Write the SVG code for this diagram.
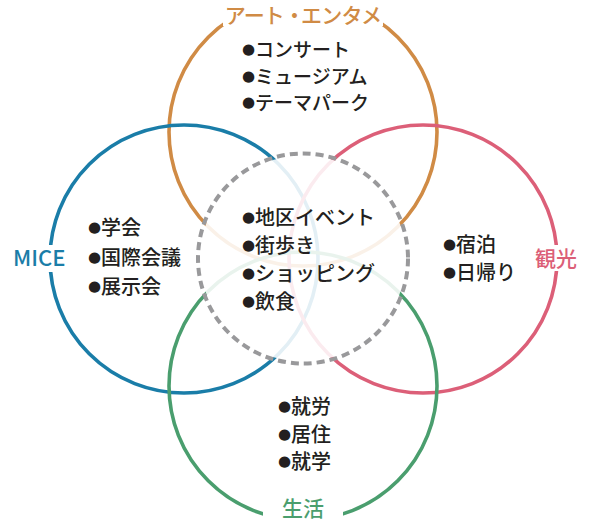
<svg xmlns="http://www.w3.org/2000/svg" width="593" height="524" viewBox="0 0 593 524">
<style>
.ring{fill:none;stroke-width:3.6}
.t{font-family:"Noto Sans CJK JP",sans-serif;font-size:20px;font-weight:500;fill:#231f20}
.s{font-size:19px}
.b{font-family:"DejaVu Sans",sans-serif;font-size:15px}
.lab{font-family:"Noto Sans CJK JP",sans-serif;font-size:21px;font-weight:500}
.bg{fill:#fff}
</style>
<rect width="593" height="524" fill="#fff"/>
<g id="rings">
<circle id="art-ring" class="ring" cx="303" cy="132" r="134" stroke="#d08b45"/>
<circle id="mice-ring" class="ring" cx="184" cy="259" r="134" stroke="#1a7da8"/>
<circle id="kanko-ring" class="ring" cx="423" cy="259" r="134" stroke="#dc5f78"/>
<circle id="seikatsu-ring" class="ring" cx="303" cy="386" r="134" stroke="#4a9e6e"/>
<circle cx="303" cy="258.5" r="103" fill="#fff" fill-opacity="0.88"/>
<circle id="center-ring" cx="303" cy="258.5" r="105" fill="none" stroke="#99999b" stroke-width="4" stroke-dasharray="8 5"/>
</g>
<g id="art">
<rect class="bg" x="223" y="-2" width="160" height="28"/>
<text class="lab" x="303" y="23" text-anchor="middle" fill="#d08b45" font-size="18" letter-spacing="-0.8">アート<tspan letter-spacing="-4">・</tspan>エンタメ</text>
<text class="t s" x="242" y="57"><tspan class="b" dy="-3">●</tspan><tspan dy="3">コンサート</tspan></text>
<text class="t s" x="242" y="83.5"><tspan class="b" dy="-3">●</tspan><tspan dy="3">ミュージアム</tspan></text>
<text class="t s" x="242" y="110"><tspan class="b" dy="-3">●</tspan><tspan dy="3">テーマパーク</tspan></text>
</g>
<g id="mice">
<rect class="bg" x="8" y="245" width="66" height="27"/>
<text x="13" y="266" font-family="Noto Sans CJK JP, sans-serif" font-size="22" font-weight="500" fill="#1a7da8">MICE</text>
<text class="t" x="88" y="235"><tspan class="b" dy="-3">●</tspan><tspan dy="3">学会</tspan></text>
<text class="t" x="88" y="265"><tspan class="b" dy="-3">●</tspan><tspan dy="3">国際会議</tspan></text>
<text class="t" x="88" y="294"><tspan class="b" dy="-3">●</tspan><tspan dy="3">展示会</tspan></text>
</g>
<g id="kanko">
<rect class="bg" x="531" y="245" width="52" height="26"/>
<text class="lab" x="535" y="266" fill="#dc5f78">観光</text>
<text class="t" x="443" y="252"><tspan class="b" dy="-3">●</tspan><tspan dy="3">宿泊</tspan></text>
<text class="t" x="443" y="280"><tspan class="b" dy="-3">●</tspan><tspan dy="3">日帰り</tspan></text>
</g>
<g id="seikatsu">
<rect class="bg" x="263" y="504" width="80" height="22"/>
<text class="lab" x="282" y="516" fill="#4a9e6e" font-size="20">生活</text>
<text class="t" x="278" y="414"><tspan class="b" dy="-3">●</tspan><tspan dy="3">就労</tspan></text>
<text class="t" x="278" y="442"><tspan class="b" dy="-3">●</tspan><tspan dy="3">居住</tspan></text>
<text class="t" x="278" y="469"><tspan class="b" dy="-3">●</tspan><tspan dy="3">就学</tspan></text>
</g>
<g id="center">
<text class="t" x="242" y="225"><tspan class="b" dy="-3">●</tspan><tspan dy="3">地区イベント</tspan></text>
<text class="t" x="242" y="253"><tspan class="b" dy="-3">●</tspan><tspan dy="3">街歩き</tspan></text>
<text class="t" x="242" y="281"><tspan class="b" dy="-3">●</tspan><tspan dy="3">ショッピング</tspan></text>
<text class="t" x="242" y="309"><tspan class="b" dy="-3">●</tspan><tspan dy="3">飲食</tspan></text>
</g>
</svg>
